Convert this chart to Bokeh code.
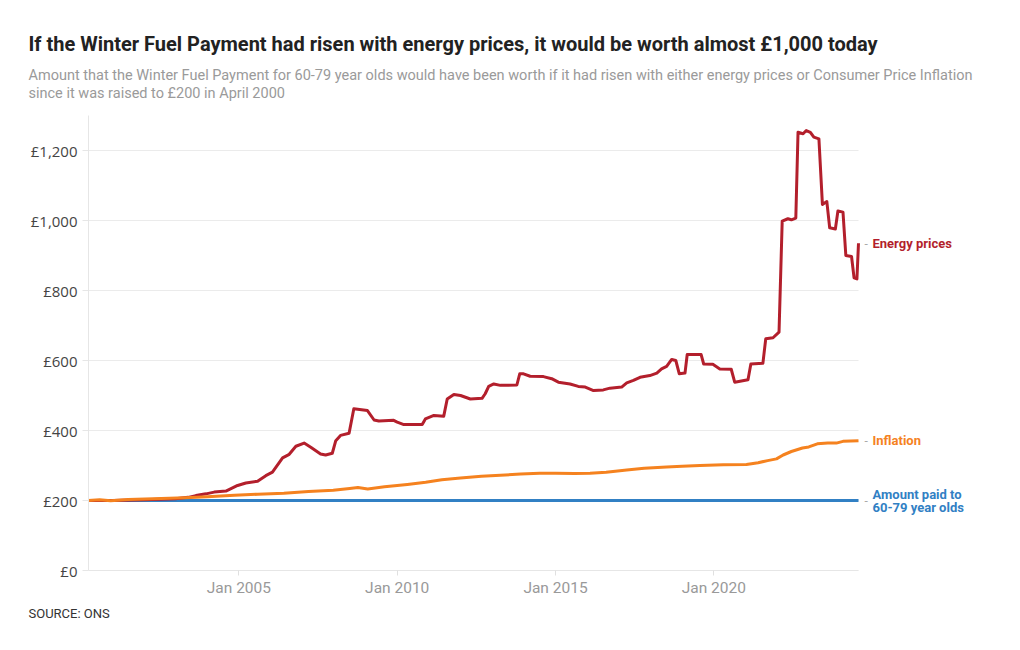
from bokeh.plotting import figure
from bokeh.models import Label, FixedTicker, Range1d, Title
from bokeh.embed import file_html
from bokeh.resources import INLINE

# ---- data (decimal years, £) ----
energy_year = [2000.25, 2001.0, 2002.0, 2003.0, 2003.4, 2003.64, 2003.96, 2004.22, 2004.59, 2004.96,
               2005.22, 2005.59, 2005.85, 2006.06, 2006.38, 2006.59, 2006.80, 2007.06, 2007.27, 2007.58,
               2007.74, 2007.95, 2008.06, 2008.21, 2008.48, 2008.63, 2009.06, 2009.27, 2009.42, 2009.89,
               2010.0, 2010.21, 2010.79, 2010.89, 2011.16, 2011.47, 2011.58, 2011.79, 2012.0, 2012.31,
               2012.68, 2012.78, 2012.89, 2013.05, 2013.26, 2013.78, 2013.87, 2013.99, 2014.2, 2014.62,
               2014.88, 2015.09, 2015.46, 2015.72, 2015.94, 2016.2, 2016.51, 2016.72, 2017.09, 2017.25,
               2017.46, 2017.67, 2017.98, 2018.2, 2018.35, 2018.51, 2018.67, 2018.8, 2018.91, 2019.09,
               2019.16, 2019.6, 2019.68, 2019.97, 2020.19, 2020.55, 2020.66, 2021.08, 2021.17, 2021.55,
               2021.64, 2021.87, 2022.06, 2022.16, 2022.34, 2022.45, 2022.59, 2022.66, 2022.82, 2022.92,
               2023.05, 2023.16, 2023.32, 2023.43, 2023.57, 2023.66, 2023.84, 2023.92, 2024.08, 2024.17,
               2024.35, 2024.43, 2024.52, 2024.57]
energy_value = [200, 200, 202, 205, 209, 214, 219, 224, 227, 243,
                250, 255, 271, 281, 322, 332, 355, 364, 352, 333,
                330, 335, 371, 386, 392, 462, 457, 430, 427, 429,
                424, 417, 417, 433, 443, 441, 490, 503, 500, 490,
                492, 505, 526, 533, 529, 530, 562, 562, 555, 554,
                548, 538, 533, 526, 524, 514, 516, 521, 524, 536,
                543, 552, 557, 564, 576, 583, 603, 600, 562, 564,
                617, 617, 590, 589, 576, 575, 538, 545, 590, 592,
                662, 665, 681, 998, 1005, 1002, 1007, 1252, 1248, 1257,
                1252, 1238, 1233, 1046, 1054, 979, 976, 1027, 1024, 900,
                897, 836, 833, 935]

inflation_year = [2000.25, 2000.6, 2000.95, 2001.5, 2002.3, 2003.3, 2004.0, 2004.86, 2005.6, 2006.42,
                  2007.2, 2007.98, 2008.5, 2008.76, 2009.07, 2009.6, 2010.32, 2010.9, 2011.41, 2012.0,
                  2012.66, 2013.26, 2013.9, 2014.5, 2015.0, 2015.6, 2016.09, 2016.6, 2017.25, 2017.8,
                  2018.51, 2019.0, 2019.56, 2020.3, 2021.03, 2021.4, 2021.7, 2021.98, 2022.19, 2022.45,
                  2022.8, 2023.0, 2023.27, 2023.6, 2023.87, 2024.08, 2024.57]
inflation_value = [200, 202, 199, 203, 205, 208, 211, 215, 218, 221,
                   226, 229, 234, 237, 233, 239, 246, 252, 259, 264,
                   269, 272, 276, 278, 278, 277, 278, 281, 287, 292,
                   296, 298, 300, 302, 303, 308, 314, 319, 330, 340,
                   350, 353, 362, 364, 364, 369, 371]

paid_year = [2000.25, 2024.57]
paid_value = [200, 200]

y_ticks = [0, 200, 400, 600, 800, 1000, 1200]
y_tick_labels = ["£0", "£200", "£400", "£600", "£800", "£1,000", "£1,200"]
x_ticks = [2005, 2010, 2015, 2020]
x_tick_labels = ["Jan 2005", "Jan 2010", "Jan 2015", "Jan 2020"]

title_text = "If the Winter Fuel Payment had risen with energy prices, it would be worth almost £1,000 today"
subtitle_text = ("Amount that the Winter Fuel Payment for 60-79 year olds would have been worth if it had risen "
                 "with either energy prices or Consumer Price Inflation\n"
                 "since it was raised to £200 in April 2000")
source_text = "SOURCE: ONS"

RED = "#b31f2c"
ORANGE = "#f5821f"
BLUE = "#3180c4"
FONT = "Roboto"

x_start, x_end = energy_year[0], energy_year[-1]
# frame extends right of the data so the end labels fit (data occupies 770 of 912 px)
x_range_end = x_start + (x_end - x_start) * 912 / 770

p = figure(width=1010, height=640, output_backend="svg", toolbar_location=None,
           x_range=Range1d(x_start, x_range_end), y_range=Range1d(0, 1300),
           min_border_left=88, min_border_right=10, min_border_top=115, min_border_bottom=70)
p.outline_line_color = None
p.background_fill_color = "white"
p.xgrid.visible = False
p.ygrid.visible = False

# horizontal gridlines limited to the data span
p.segment(x0=[x_start] * len(y_ticks), x1=[x_end] * len(y_ticks), y0=y_ticks, y1=y_ticks,
          line_color="#ebebeb", line_width=1, level="underlay")

p.yaxis.ticker = FixedTicker(ticks=y_ticks)
p.yaxis.major_label_overrides = dict(zip(y_ticks, y_tick_labels))
p.yaxis.axis_line_color = "#e6e6e6"
p.yaxis.major_tick_line_color = "#e6e6e6"
p.yaxis.major_tick_out = 6
p.yaxis.major_tick_in = 0
p.yaxis.minor_tick_line_color = None
p.yaxis.major_label_text_font = "Open Sans"
p.yaxis.major_label_text_font_size = "15px"
p.yaxis.major_label_text_color = "#444444"
p.yaxis.major_label_standoff = 5

p.xaxis.ticker = FixedTicker(ticks=x_ticks)
p.xaxis.bounds = (x_start, x_end)
p.xaxis.major_label_overrides = dict(zip(x_ticks, x_tick_labels))
p.xaxis.axis_line_color = "#e6e6e6"
p.xaxis.major_tick_line_color = "#e0e0e0"
p.xaxis.major_tick_out = 5
p.xaxis.major_tick_in = 0
p.xaxis.minor_tick_line_color = None
p.xaxis.major_label_text_font = FONT
p.xaxis.major_label_text_font_size = "15.5px"
p.xaxis.major_label_text_color = "#999999"
p.xaxis.major_label_standoff = 3

p.line(paid_year, paid_value, line_color=BLUE, line_width=3)
p.line(energy_year, energy_value, line_color=RED, line_width=3, line_join="round")
p.line(inflation_year, inflation_value, line_color=ORANGE, line_width=3, line_join="round")

for yv in [energy_value[-1], inflation_value[-1], paid_value[-1]]:
    p.add_layout(Label(x=x_end, y=yv, x_offset=6, text="-", text_color="#aaaaaa",
                       text_font=FONT, text_font_size="12px", text_baseline="middle"))
p.add_layout(Label(x=x_end, y=energy_value[-1], x_offset=14, text="Energy prices", text_color=RED,
                   text_font=FONT, text_font_size="13px", text_font_style="bold", text_baseline="middle"))
p.add_layout(Label(x=x_end, y=inflation_value[-1], x_offset=14, text="Inflation", text_color=ORANGE,
                   text_font=FONT, text_font_size="13px", text_font_style="bold", text_baseline="middle"))
p.add_layout(Label(x=x_end, y=paid_value[-1], x_offset=14, y_offset=6, text="Amount paid to", text_color=BLUE,
                   text_font=FONT, text_font_size="13px", text_font_style="bold", text_baseline="middle"))
p.add_layout(Label(x=x_end, y=paid_value[-1], x_offset=14, y_offset=-7, text="60-79 year olds", text_color=BLUE,
                   text_font=FONT, text_font_size="13px", text_font_style="bold", text_baseline="middle"))

# titles (first added sits closest to the plot)
p.add_layout(Title(text=subtitle_text, align="left", vertical_align="top", offset=-60, standoff=22,
                   text_font=FONT, text_font_size="14.5px", text_font_style="normal",
                   text_color="#9a9a9a", text_line_height=1.1), "above")
p.add_layout(Title(text=title_text, align="left", offset=-60, standoff=0, text_font=FONT,
                   text_font_size="20px", text_font_style="bold", text_color="#222222"), "above")
p.add_layout(Title(text=source_text, align="left", offset=-60, standoff=8, text_font=FONT,
                   text_font_size="13px", text_font_style="normal", text_color="#333333"), "below")

open("out.html", "w").write(file_html(p, INLINE))
